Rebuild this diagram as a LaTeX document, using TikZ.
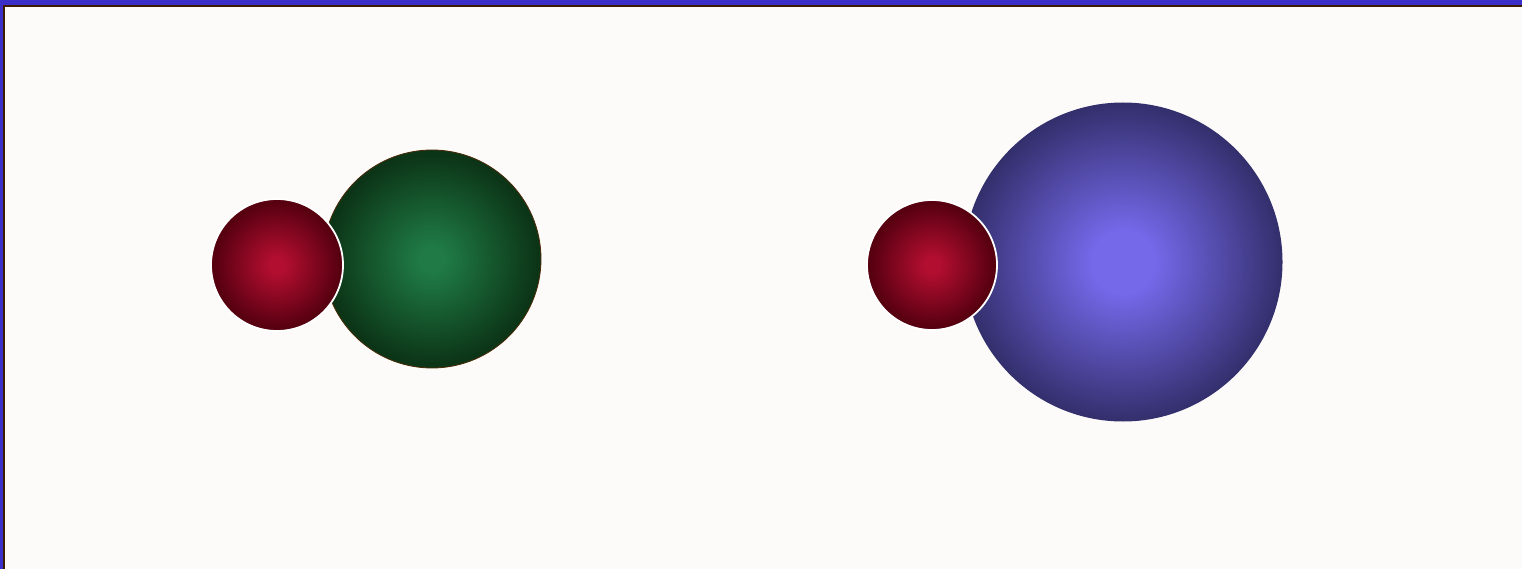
\documentclass[tikz,border=0pt]{standalone}

\definecolor{paper}{HTML}{FCFBF9}
\definecolor{frameblue}{HTML}{3A2FC8}
\definecolor{framebrown}{HTML}{3E1C02}
\definecolor{redin}{HTML}{B20E30}
\definecolor{redout}{HTML}{560010}
\definecolor{greenin}{HTML}{1F7A45}
\definecolor{greenout}{HTML}{0C3517}
\definecolor{bluein}{HTML}{7568E9}
\definecolor{blueout}{HTML}{332F6C}
\definecolor{rimbrown}{HTML}{4A2A06}

% Kugelverlaeufe
\pgfdeclareradialshading{redball}{\pgfpoint{0bp}{0bp}}{color(0bp)=(redin); color(3bp)=(redin); color(24bp)=(redout); color(50bp)=(redout)}
\pgfdeclareradialshading{greenball}{\pgfpoint{0bp}{0bp}}{color(0bp)=(greenin); color(3bp)=(greenin); color(24bp)=(greenout); color(50bp)=(greenout)}
\pgfdeclareradialshading{blueball}{\pgfpoint{0bp}{0bp}}{color(0bp)=(bluein); color(5bp)=(bluein); color(25bp)=(blueout); color(50bp)=(blueout)}

\begin{document}
\begin{tikzpicture}[
    x=1pt, y=-1pt,
    % Stile der Kugeln
    ball/.style={circle, inner sep=0pt, outer sep=0pt},
    small/.style={ball, shading=redball, draw=white, line width=1.8pt, minimum size=132pt},
    medium/.style={ball, shading=greenball, draw=rimbrown, line width=0.8pt, minimum size=218pt},
    large/.style={ball, shading=blueball, minimum size=319pt}
]

    % ==================== RAHMEN ====================
    \useasboundingbox (0,0) rectangle (1522,569);
    \fill[frameblue] (0,0) rectangle (1522,569);
    \fill[framebrown] (3,5) rectangle (1522,569);
    \fill[paper] (5,7) rectangle (1522,569);

    % ==================== LINKES PAAR ====================
    \node[medium] (green) at (432,259) {};
    \node[small] (redleft) at (277,265) {};

    % ==================== RECHTES PAAR ====================
    \node[large] (blue) at (1123,262) {};
    \node[small, minimum size=130pt] (redright) at (932,265) {};

\end{tikzpicture}
\end{document}
